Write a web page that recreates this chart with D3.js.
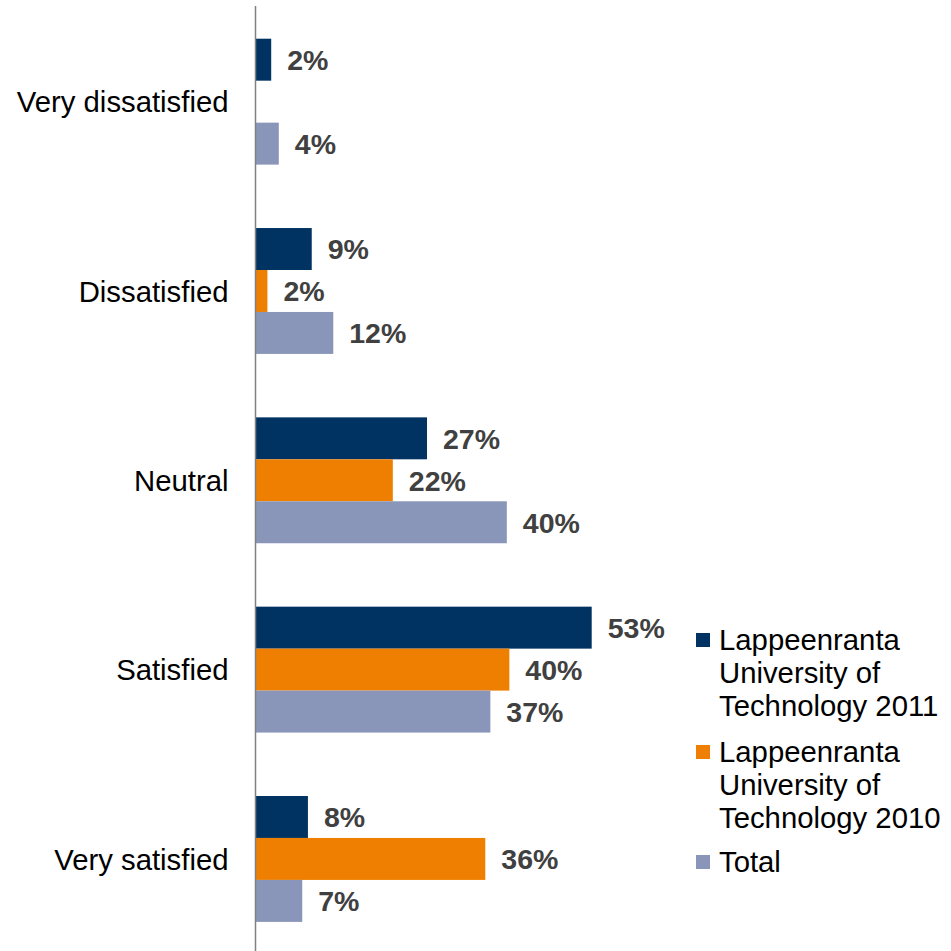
<!DOCTYPE html>
<html>
<head>
<meta charset="utf-8">
<script src="https://cdn.jsdelivr.net/npm/d3@7"></script>
<style>
  html, body { margin: 0; padding: 0; background: #fff; }
  svg { display: block; }
</style>
</head>
<body>
<svg id="chart" width="951" height="951"></svg>
<script>
const categories = ["Very dissatisfied", "Dissatisfied", "Neutral", "Satisfied", "Very satisfied"];
const seriesNames = [
  "Lappeenranta University of Technology 2011",
  "Lappeenranta University of Technology 2010",
  "Total"
];
const seriesLegendLines = [
  ["Lappeenranta", "University of", "Technology 2011"],
  ["Lappeenranta", "University of", "Technology 2010"],
  ["Total"]
];
const values2011 = [2.4, 8.8, 27, 53, 8.2];
const values2010 = [0, 1.8, 21.6, 40, 36.2];
const valuesTotal = [3.6, 12.2, 39.6, 37, 7.3];
const labels2011 = ["2%", "9%", "27%", "53%", "8%"];
const labels2010 = ["", "2%", "22%", "40%", "36%"];
const labelsTotal = ["4%", "12%", "40%", "37%", "7%"];
const colors = ["#003361", "#EF7F00", "#8A96B9"];

const allValues = [values2011, values2010, valuesTotal];
const allLabels = [labels2011, labels2010, labelsTotal];

const svg = d3.select("#chart");

const x = d3.scaleLinear().domain([0, 53]).range([256, 591.7]);
const y = d3.scaleBand().domain(categories).range([7, 953.6]).paddingInner(0.335).paddingOuter(0.1675);
const ys = d3.scaleBand().domain(d3.range(seriesNames.length)).range([0, y.bandwidth()]);

const data = [];
categories.forEach((c, i) => {
  allValues.forEach((vals, s) => {
    data.push({ cat: c, s: s, v: vals[i], label: allLabels[s][i] });
  });
});

// bars
svg.append("g").selectAll("rect")
  .data(data.filter(d => d.v > 0))
  .join("rect")
  .attr("x", x(0))
  .attr("y", d => y(d.cat) + ys(d.s))
  .attr("width", d => x(d.v) - x(0))
  .attr("height", ys.bandwidth())
  .attr("fill", d => colors[d.s]);

// value labels
svg.append("g").selectAll("text")
  .data(data.filter(d => d.v > 0 && d.label))
  .join("text")
  .attr("x", d => x(d.v) + 16)
  .attr("y", d => y(d.cat) + ys(d.s) + ys.bandwidth() / 2)
  .attr("dy", "0.36em")
  .attr("font-family", "Liberation Sans, Arial, sans-serif")
  .attr("font-weight", "bold")
  .attr("font-size", 28.5)
  .attr("fill", "#404040")
  .text(d => d.label);

// axis
const yAxis = d3.axisLeft(y).tickSize(0).tickPadding(27);
const ag = svg.append("g").attr("transform", "translate(255.5,0)").call(yAxis);
ag.select(".domain").remove();
ag.append("line")
  .attr("x1", 0).attr("x2", 0).attr("y1", 6).attr("y2", 951)
  .attr("stroke", "#808080").attr("stroke-width", 1.5);
ag.selectAll(".tick text")
  .attr("font-family", "Liberation Sans, Arial, sans-serif")
  .attr("font-size", 29.3)
  .attr("fill", "#000")
  .attr("dy", "0.36em");

// legend
const legendTops = [650, 762, 872];
const lg = svg.append("g");
seriesNames.forEach((name, s) => {
  const g = lg.append("g");
  g.append("rect")
    .attr("x", 696).attr("y", legendTops[s] - 17)
    .attr("width", 14).attr("height", 14)
    .attr("fill", colors[s]);
  const t = g.append("text")
    .attr("font-family", "Liberation Sans, Arial, sans-serif")
    .attr("font-size", 29.3)
    .attr("fill", "#000");
  seriesLegendLines[s].forEach((line, li) => {
    t.append("tspan").attr("x", 719).attr("y", legendTops[s] + li * 33).text(line);
  });
});
</script>
</body>
</html>
